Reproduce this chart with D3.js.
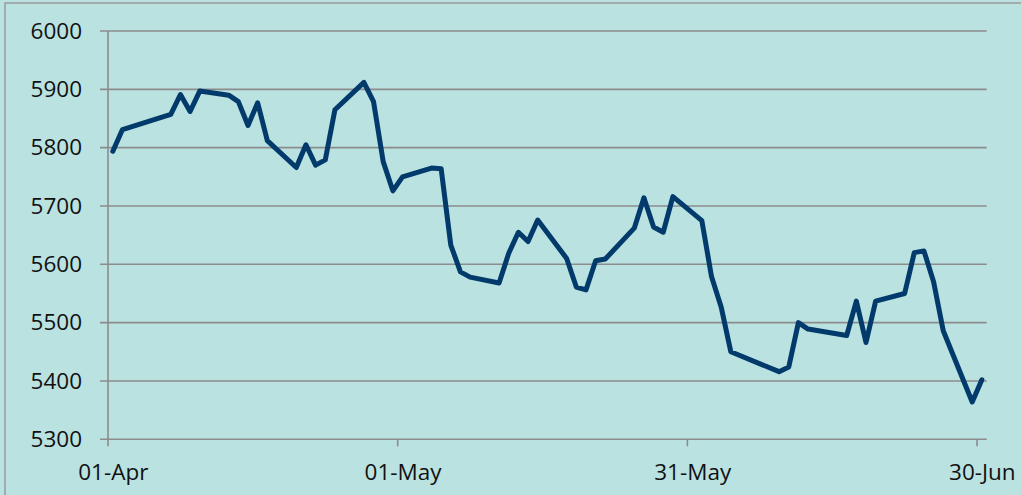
<!DOCTYPE html>
<html>
<head>
<meta charset="utf-8">
<script src="https://cdn.jsdelivr.net/npm/d3@7"></script>
<style>
  html, body { margin: 0; padding: 0; background: #bae2e1; }
  svg { display: block; }
</style>
</head>
<body>
<svg id="chart" width="1021" height="495"></svg>
<script>
// ---- data ----
const dates = [
  "2015-04-01","2015-04-02","2015-04-07","2015-04-08","2015-04-09","2015-04-10",
  "2015-04-13","2015-04-14","2015-04-15","2015-04-16","2015-04-17",
  "2015-04-20","2015-04-21","2015-04-22","2015-04-23","2015-04-24",
  "2015-04-27","2015-04-28","2015-04-29","2015-04-30","2015-05-01",
  "2015-05-04","2015-05-05","2015-05-06","2015-05-07","2015-05-08",
  "2015-05-11","2015-05-12","2015-05-13","2015-05-14","2015-05-15",
  "2015-05-18","2015-05-19","2015-05-20","2015-05-21","2015-05-22",
  "2015-05-25","2015-05-26","2015-05-27","2015-05-28","2015-05-29",
  "2015-06-01","2015-06-02","2015-06-03","2015-06-04",
  "2015-06-09","2015-06-10","2015-06-11","2015-06-12",
  "2015-06-16","2015-06-17","2015-06-18","2015-06-19",
  "2015-06-22","2015-06-23","2015-06-24","2015-06-25","2015-06-26",
  "2015-06-29","2015-06-30"
];
const values = [
  5794, 5831, 5857, 5891, 5862, 5897,
  5890, 5879, 5838, 5877, 5812,
  5766, 5805, 5770, 5779, 5865,
  5912, 5879, 5776, 5726, 5750,
  5765, 5764, 5633, 5587, 5578,
  5568, 5619, 5655, 5639, 5676,
  5610, 5561, 5556, 5606, 5609,
  5662, 5714, 5664, 5655, 5716,
  5675, 5579, 5527, 5450,
  5416, 5424, 5500, 5489,
  5478, 5537, 5466, 5537,
  5550, 5620, 5623, 5570, 5486,
  5364, 5402
];
const xTickDates = ["2015-04-01","2015-05-01","2015-05-31","2015-06-30"];
const yTicks = [5300, 5400, 5500, 5600, 5700, 5800, 5900, 6000];
const xDomain = ["2015-04-01","2015-07-01"];

(function draw() {
  const svg = d3.select("#chart");
  const pLeft = 108, pRight = 986.7, pTop = 31, pBottom = 439.3;
  const HALF_DAY = 12 * 3600 * 1000;
  const parse = d3.utcParse("%Y-%m-%d");
  const fmt = d3.utcFormat("%d-%b");

  const x = d3.scaleUtc().domain(xDomain.map(parse)).range([pLeft, pRight]);
  const y = d3.scaleLinear().domain([5300, 6000]).range([pBottom, pTop]);

  // background + frame
  svg.append("rect").attr("x", 0).attr("y", 0).attr("width", 1021).attr("height", 495).attr("fill", "#bae2e1");
  svg.append("rect").attr("x", 5).attr("y", 3).attr("width", 1200).attr("height", 700)
    .attr("fill", "none").attr("stroke", "#9a9a9a").attr("stroke-width", 1.5);

  const gridColor = "#8c8c8c";

  // horizontal gridlines (with tick extension to the left)
  svg.append("g").selectAll("line").data(yTicks).join("line")
    .attr("x1", pLeft - 8).attr("x2", pRight)
    .attr("y1", d => y(d)).attr("y2", d => y(d))
    .attr("stroke", gridColor).attr("stroke-width", 1.6);

  // y axis labels
  const yAxis = svg.append("g").attr("transform", `translate(${pLeft},0)`)
    .call(d3.axisLeft(y).tickValues(yTicks).tickSize(0).tickPadding(26).tickFormat(d3.format("d")));
  yAxis.select(".domain").remove();
  yAxis.selectAll("text").attr("font-family", "'Open Sans', sans-serif").attr("font-size", 22.5).attr("fill", "#111");

  // y axis line
  svg.append("line").attr("x1", pLeft).attr("x2", pLeft).attr("y1", pTop).attr("y2", pBottom)
    .attr("stroke", gridColor).attr("stroke-width", 1.6);

  // x axis tick marks
  const tickDates = xTickDates.map(parse);
  svg.append("g").selectAll("line").data(tickDates).join("line")
    .attr("x1", d => x(d)).attr("x2", d => x(d))
    .attr("y1", pBottom).attr("y2", pBottom + 7)
    .attr("stroke", gridColor).attr("stroke-width", 1.6);

  // x axis labels (centered on the day slot)
  const xAxis = svg.append("g").attr("transform", `translate(0,${pBottom})`)
    .call(d3.axisBottom(x).tickValues(tickDates.map(d => new Date(+d + HALF_DAY))).tickSize(0).tickPadding(25)
      .tickFormat(d => fmt(new Date(+d - HALF_DAY))));
  xAxis.select(".domain").remove();
  xAxis.selectAll("text").attr("font-family", "'Open Sans', sans-serif").attr("font-size", 22.5).attr("fill", "#111");

  // series line
  const pts = dates.map((d, i) => ({ t: new Date(+parse(d) + HALF_DAY), v: values[i] }));
  svg.append("path").datum(pts)
    .attr("fill", "none").attr("stroke", "#023a6b").attr("stroke-width", 5)
    .attr("stroke-linejoin", "round").attr("stroke-linecap", "round")
    .attr("d", d3.line().x(d => x(d.t)).y(d => y(d.v)));
})();
</script>
</body>
</html>
